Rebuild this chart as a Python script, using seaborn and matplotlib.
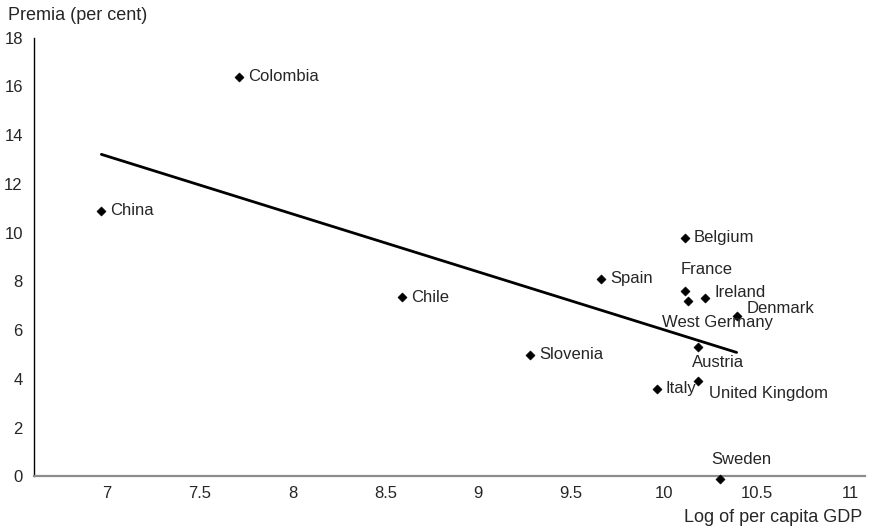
import numpy as np
import pandas as pd
import seaborn as sns
import matplotlib.pyplot as plt

# Data ---------
countries = ["Colombia", "China", "Chile", "Slovenia", "Spain", "Belgium",
             "France", "West Germany", "Ireland", "Denmark", "Austria",
             "Italy", "United Kingdom", "Sweden"]
log_gdp = [7.71, 6.97, 8.59, 9.28, 9.66, 10.11, 10.11, 10.13, 10.22, 10.39,
           10.18, 9.96, 10.18, 10.30]
premia = [16.4, 10.9, 7.35, 5.0, 8.1, 9.8, 7.6, 7.2, 7.3, 6.6, 5.3, 3.6, 3.9, -0.1]
x_ticks = [7, 7.5, 8, 8.5, 9, 9.5, 10, 10.5, 11]
y_ticks = [0, 2, 4, 6, 8, 10, 12, 14, 16, 18]

# label offsets in pixels (dx, dy, ha)
label_offsets = {
    "France": (-4, 22, "left"),
    "Ireland": (9, 6, "left"),
    "Denmark": (10, 7, "left"),
    "West Germany": (-26, -22, "left"),
    "Austria": (-6, -15, "left"),
    "United Kingdom": (11, -12, "left"),
    "Sweden": (-9, 19, "left"),
}

df = pd.DataFrame({"country": countries, "log_gdp": log_gdp, "premia": premia})

# Plot ---------
sns.set_style("white")
plt.rcParams["font.family"] = ["Liberation Sans", "DejaVu Sans"]

fig = plt.figure(figsize=(8.8, 5.3), dpi=100)
ax = fig.add_axes([0.0386, 0.101, 0.9443, 0.828])

sns.regplot(data=df, x="log_gdp", y="premia", ci=None, scatter=False,
            truncate=True, color="black", line_kws={"lw": 2}, ax=ax)
sns.scatterplot(data=df, x="log_gdp", y="premia", marker="D", s=22,
                color="black", edgecolor="black", ax=ax, clip_on=False,
                zorder=3)

for name, gx, py in zip(countries, log_gdp, premia):
    dx, dy, ha = label_offsets.get(name, (9, 0, "left"))
    ax.annotate(name, (gx, py), xytext=(dx, dy), textcoords="offset pixels",
                ha=ha, va="center", fontsize=12, annotation_clip=False)

ax.set_xlim(6.607, 11.081)
ax.set_ylim(0, 18)
ax.set_xticks(x_ticks)
ax.set_xticklabels([f"{t:g}" for t in x_ticks])
ax.set_yticks(y_ticks)
ax.tick_params(axis="both", length=0, labelsize=12)
ax.tick_params(axis="x", pad=7)
ax.tick_params(axis="y", pad=8)
ax.set_xlabel("")
ax.set_ylabel("")

for side in ["top", "right"]:
    ax.spines[side].set_visible(False)
ax.spines["bottom"].set_color("#8c8c8c")
ax.spines["bottom"].set_linewidth(1.6)
ax.spines["left"].set_color("black")
ax.spines["left"].set_linewidth(1)

fig.text(8 / 880, 1 - 15 / 530, "Premia (per cent)", ha="left", va="center",
         fontsize=13)
fig.text(862 / 880, 1 - 518 / 530, "Log of per capita GDP", ha="right",
         va="center", fontsize=13)

fig.savefig("out.png", dpi=100)
